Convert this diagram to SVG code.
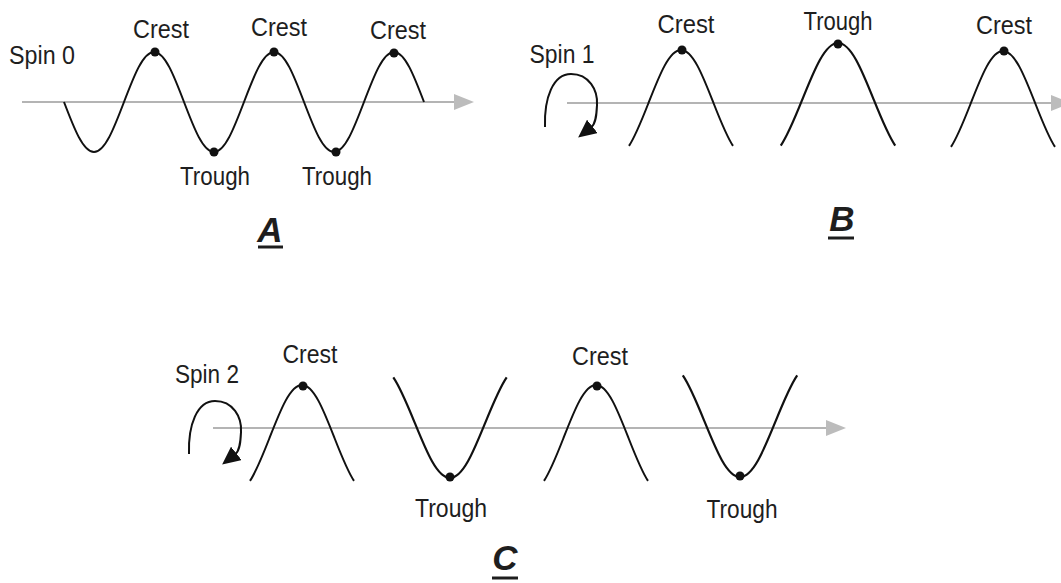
<svg xmlns="http://www.w3.org/2000/svg" xmlns:xlink="http://www.w3.org/1999/xlink" width="1061" height="583" viewBox="0 0 1061 583">
<style>
.lbl{font-family:"Liberation Sans",Arial,sans-serif;font-size:25px;fill:#1e1e1e;text-anchor:middle}
.big{font-family:"Liberation Sans",Arial,sans-serif;font-size:35px;font-weight:bold;font-style:italic;fill:#1e1e1e;text-anchor:middle}
.wave{fill:none;stroke:#111;stroke-width:2}
.axis{fill:none;stroke:#b4b4b4;stroke-width:2}
.spin{fill:none;stroke:#111;stroke-width:2}
.dot{fill:#111}
.ul{stroke:#1e1e1e;stroke-width:3}
</style>
<defs>
<path id="bump" d="M-52,95.9 C-45.5,86.1 -39,69.6 -32.5,53 C-21.6,25.2 -11.8,0 0,0 C11.8,0 21.6,25.2 32.5,53 C39,69.6 45.5,86.1 52,95.9"/>
<marker id="axhead" markerUnits="userSpaceOnUse" viewBox="0 0 20 16" markerWidth="20" markerHeight="16" refX="2" refY="8" orient="auto">
<path d="M0,0 L20,8 L0,16 z" fill="#bcbcbc"/>
</marker>
<marker id="spinhead" markerUnits="userSpaceOnUse" viewBox="0 0 18 17" markerWidth="18" markerHeight="17" refX="1" refY="8.5" orient="auto">
<path d="M0,0 L18,8.5 L0,17 z" fill="#111"/>
</marker>
<path id="spinarc" d="M545,127 C544,98 553,74 571,74 C589,74 598,90 597,105 C596.6,113 596.2,123.3 591.5,127"/>
</defs>
<rect width="1061" height="583" fill="#fff"/>

<g id="connectors">
<line class="axis" x1="22" y1="102" x2="456" y2="102" marker-end="url(#axhead)"/>
<line class="axis" x1="567" y1="103" x2="1053" y2="103" marker-end="url(#axhead)"/>
<line class="axis" x1="213" y1="428" x2="828" y2="428" marker-end="url(#axhead)"/>
<use xlink:href="#spinarc" class="spin" marker-end="url(#spinhead)"/>
<use xlink:href="#spinarc" class="spin" transform="translate(-356,327)" marker-end="url(#spinhead)"/>
</g>

<g id="panel-A">
<path class="wave" d="M64,102 C74.03,128.26 83.1,152 94,152 S113.97,128.26 124,102 S143.1,52 154,52 S173.97,75.74 184,102 S203.1,152 214,152 S233.97,128.26 244,102 S263.1,52 274,52 S293.97,75.74 304,102 S323.1,152 334,152 S353.97,128.26 364,102 S383.1,52 394,52 S413.97,75.74 424,102"/>
<circle class="dot" cx="155" cy="52" r="4.5"/>
<circle class="dot" cx="274" cy="52" r="4.5"/>
<circle class="dot" cx="394" cy="53" r="4.5"/>
<circle class="dot" cx="214" cy="152" r="4.5"/>
<circle class="dot" cx="336" cy="152" r="4.5"/>
<text class="lbl" x="42" y="64" textLength="66" lengthAdjust="spacingAndGlyphs">Spin 0</text>
<text class="lbl" x="161" y="38" textLength="56" lengthAdjust="spacingAndGlyphs">Crest</text>
<text class="lbl" x="279" y="36" textLength="56" lengthAdjust="spacingAndGlyphs">Crest</text>
<text class="lbl" x="398" y="39" textLength="56" lengthAdjust="spacingAndGlyphs">Crest</text>
<text class="lbl" x="215" y="185" textLength="70" lengthAdjust="spacingAndGlyphs">Trough</text>
<text class="lbl" x="337" y="185" textLength="70" lengthAdjust="spacingAndGlyphs">Trough</text>
<text class="big" x="270" y="242">A</text>
<line class="ul" x1="258" y1="247" x2="283" y2="247"/>
</g>

<g id="panel-B">
<use xlink:href="#bump" class="wave" transform="translate(681,50)"/>
<use xlink:href="#bump" class="wave" transform="translate(838,43) scale(1.1,1.07)"/>
<use xlink:href="#bump" class="wave" transform="translate(1003,51)"/>
<circle class="dot" cx="682" cy="50" r="4.5"/>
<circle class="dot" cx="838" cy="44" r="4.5"/>
<circle class="dot" cx="1004" cy="51" r="4.5"/>
<text class="lbl" x="562" y="63" textLength="65" lengthAdjust="spacingAndGlyphs">Spin 1</text>
<text class="lbl" x="686" y="33" textLength="57" lengthAdjust="spacingAndGlyphs">Crest</text>
<text class="lbl" x="838" y="30" textLength="69" lengthAdjust="spacingAndGlyphs">Trough</text>
<text class="lbl" x="1004" y="34" textLength="56" lengthAdjust="spacingAndGlyphs">Crest</text>
<text class="big" x="842" y="231">B</text>
<line class="ul" x1="828" y1="238" x2="854" y2="238"/>
</g>

<g id="panel-C">
<use xlink:href="#bump" class="wave" transform="translate(302,385)"/>
<use xlink:href="#bump" class="wave" transform="translate(450,478) scale(1.09,-1.05)"/>
<use xlink:href="#bump" class="wave" transform="translate(596,385)"/>
<use xlink:href="#bump" class="wave" transform="translate(740,477) scale(1.1,-1.06)"/>
<circle class="dot" cx="303" cy="386" r="4.5"/>
<circle class="dot" cx="450" cy="477" r="4.5"/>
<circle class="dot" cx="597" cy="386" r="4.5"/>
<circle class="dot" cx="740" cy="476" r="4.5"/>
<text class="lbl" x="207" y="383" textLength="64" lengthAdjust="spacingAndGlyphs">Spin 2</text>
<text class="lbl" x="310" y="363" textLength="55" lengthAdjust="spacingAndGlyphs">Crest</text>
<text class="lbl" x="600" y="365" textLength="56" lengthAdjust="spacingAndGlyphs">Crest</text>
<text class="lbl" x="451" y="517" textLength="72" lengthAdjust="spacingAndGlyphs">Trough</text>
<text class="lbl" x="742" y="518" textLength="71" lengthAdjust="spacingAndGlyphs">Trough</text>
<text class="big" x="505" y="570">C</text>
<line class="ul" x1="492" y1="578" x2="518" y2="578"/>
</g>
</svg>
